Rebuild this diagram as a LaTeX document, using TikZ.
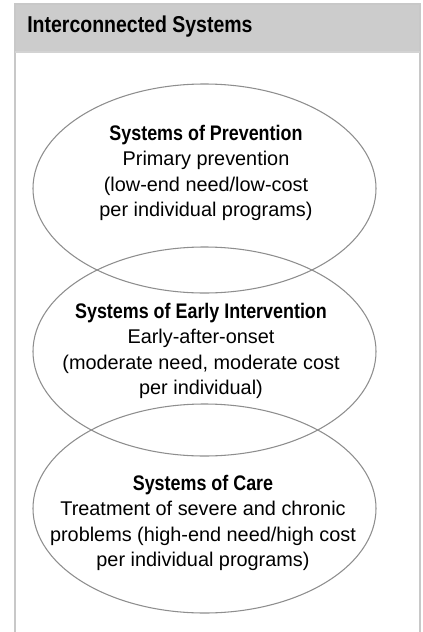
\documentclass[tikz,border=0pt]{standalone}
\usepackage{fontspec}
\setmainfont{Liberation Sans}
\newfontfamily\condbold[FakeStretch=0.85]{Liberation Sans Bold}
\usetikzlibrary{shapes.geometric}
\definecolor{framegray}{HTML}{C8C8C8}
\definecolor{headgray}{HTML}{CCCCCC}
\definecolor{ringgray}{HTML}{8E8E8E}
\tikzset{
  ring/.style={ellipse, draw=ringgray, line width=0.8pt, inner sep=0pt,
    minimum width=257.25pt, minimum height=156.75pt},
  ringtext/.style={align=center, inner sep=0pt, text=black,
    font=\fontsize{14.9pt}{18.9pt}\selectfont},
  headtext/.style={anchor=west, inner sep=0pt, text=black,
    font=\condbold\fontsize{17.2pt}{20pt}\selectfont}
}
\newcommand{\ringtitle}[1]{{\condbold\fontsize{15.8pt}{18.9pt}\selectfont #1}}
\begin{document}
\begin{tikzpicture}[x=0.75pt, y=-0.75pt]
\useasboundingbox (0,0) rectangle (423,632);
% header band
\fill[headgray] (15,4) rectangle (420,52);
\draw[framegray, line width=1.1pt] (15,632) -- (15,4) -- (420,4) -- (420,632);
\draw[framegray!80, line width=0.8pt] (15,52) -- (420,52);
\node[headtext] (title) at (27,27) {Interconnected Systems};
% ellipses
\node[ring] (e1) at (204.5,188.5) {};
\node[ring] (e2) at (204.5,351.5) {};
\node[ring] (e3) at (204.5,508.5) {};
% texts
\node[ringtext] (t1) at (206,173) {\ringtitle{Systems of Prevention}\\Primary prevention\\(low-end need/low-cost\\per individual programs)};
\node[ringtext] (t2) at (201,351) {\ringtitle{Systems of Early Intervention}\\Early-after-onset\\(moderate need, moderate cost\\per individual)};
\node[ringtext] (t3) at (203,523) {\ringtitle{Systems of Care}\\Treatment of severe and chronic\\problems (high-end need/high cost\\per individual programs)};
\end{tikzpicture}
\end{document}
